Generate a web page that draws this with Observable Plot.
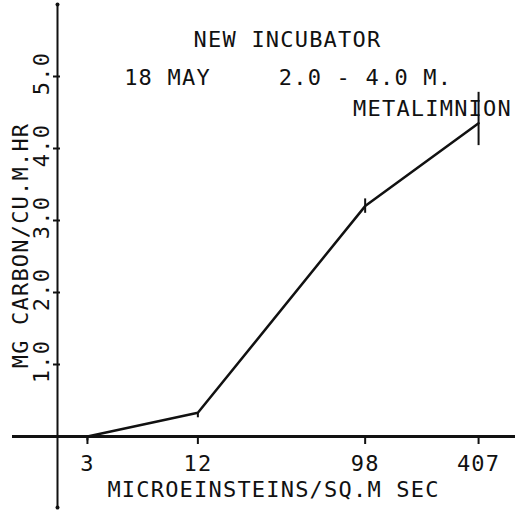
<!DOCTYPE html>
<html>
<head>
<meta charset="utf-8">
<script src="https://cdn.jsdelivr.net/npm/d3@7"></script>
<script src="https://cdn.jsdelivr.net/npm/@observablehq/plot@0.6"></script>
<style>
  html, body { margin: 0; padding: 0; background: #fff; }
  #chart svg { display: block; }
  #chart svg text { letter-spacing: 1.2px; }
</style>
</head>
<body>
<div id="chart"></div>
<script>
// Data
const light = [3, 12, 98, 407];              // microeinsteins / sq.m sec
const carbon = [0.0, 0.33, 3.2, 4.35];       // mg carbon / cu.m hr
const errLow = [-0.06, 0.26, 3.1, 4.04];
const errHigh = [0.0, 0.33, 3.3, 4.78];
const xTicks = [3, 12, 98, 407];
const yTicks = [1, 2, 3, 4, 5];
const titleText = "NEW INCUBATOR";
const dateText = "18 MAY";
const depthText = "2.0 - 4.0 M.";
const layerText = "METALIMNION";
const xLabel = "MICROEINSTEINS/SQ.M SEC";
const yLabel = "MG CARBON/CU.M.HR";

const data = light.map((x, i) => ({x, y: carbon[i], lo: errLow[i], hi: errHigh[i]}));
const xDomain = [2.06, 647];
const yDomain = [0, 6];
const ink = "#111";
const fs = 22;

const chart = Plot.plot({
  width: 523,
  height: 517,
  marginLeft: 57,
  marginRight: 8,
  marginTop: 4,
  marginBottom: 81,
  style: {fontFamily: "'DejaVu Sans Mono', monospace", fontSize: fs + "px", color: ink, background: "#fff"},
  x: {type: "log", domain: xDomain, axis: null},
  y: {domain: yDomain, axis: null},
  marks: [
    // y axis line (extends below x axis) with end dots
    Plot.ruleX([xDomain[0]], {stroke: ink, strokeWidth: 2, insetBottom: -71}),
    Plot.dot([yDomain[1]], {x: () => xDomain[0], y: d => d, r: 2, fill: ink}),
    Plot.dot([0], {x: () => xDomain[0], y: d => d, r: 2, fill: ink, dy: 71}),
    // y tick marks
    Plot.ruleY(yTicks, {y: d => d, x1: () => xDomain[0], x2: () => xDomain[0], insetLeft: -4, insetRight: -3, stroke: ink, strokeWidth: 2}),
    // y tick labels (rotated)
    Plot.text(yTicks, {y: d => d, frameAnchor: "left", textAnchor: "middle", text: d => d.toFixed(1), rotate: -90, dx: -16, dy: -3, fill: ink, fontSize: fs}),
    // y axis title
    Plot.text([yLabel], {frameAnchor: "left", textAnchor: "middle", text: d => d, rotate: -90, dx: -37, dy: 25, fill: ink, fontSize: fs}),
    // x axis line
    Plot.ruleY([0], {stroke: ink, strokeWidth: 3, insetLeft: -45}),
    // x ticks and labels
    Plot.axisX({ticks: xTicks, label: null, tickSize: 8, tickPadding: 11, tickFormat: d => String(d), stroke: ink, strokeWidth: 2, fill: ink, fontSize: fs}),
    // x axis title
    Plot.text([xLabel], {frameAnchor: "bottom", text: d => d, dx: -13, dy: 60, fill: ink, fontSize: fs}),
    // titles
    Plot.text([titleText], {frameAnchor: "top", text: d => d, dx: 1, dy: 27, fill: ink, fontSize: fs}),
    Plot.text([dateText], {frameAnchor: "top", text: d => d, dx: -119, dy: 65, fill: ink, fontSize: fs}),
    Plot.text([depthText], {frameAnchor: "top", text: d => d, dx: 79, dy: 65, fill: ink, fontSize: fs}),
    Plot.text([layerText], {frameAnchor: "top", text: d => d, dx: 146, dy: 96, fill: ink, fontSize: fs}),
    // error bars
    Plot.ruleX(data, {x: "x", y1: "lo", y2: "hi", stroke: ink, strokeWidth: 2}),
    // data line
    Plot.line(data, {x: "x", y: "y", stroke: ink, strokeWidth: 2.5})
  ]
});
document.getElementById("chart").append(chart);
</script>
</body>
</html>
